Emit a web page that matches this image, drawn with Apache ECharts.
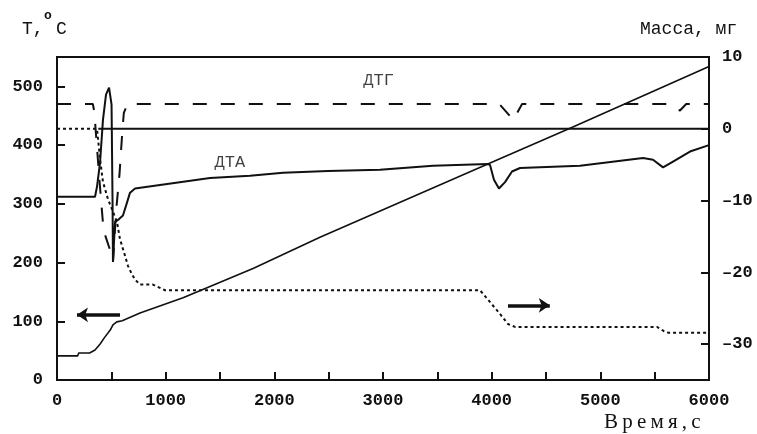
<!DOCTYPE html>
<html>
<head>
<meta charset="utf-8">
<script src="https://cdn.jsdelivr.net/npm/echarts@6/dist/echarts.min.js"></script>
<style>
  html, body { margin: 0; padding: 0; background: #fff; }
  #chart { width: 757px; height: 434px; }
</style>
</head>
<body>
<div id="chart"></div>
<script>
// Temperature program, °C (left axis)
const tempTime = [0, 190, 200, 300, 350, 395, 440, 490, 515, 550, 600, 764, 1160, 1804, 2420, 3954, 4737, 6000];
const tempValues = [41, 41, 46, 46, 51, 61, 73, 85, 94, 99, 101, 114, 140, 190, 243, 367, 430, 534];

// DTA signal, plotted in left-axis units
const dtaTime = [0, 350, 368, 396, 423, 451, 479, 502, 511, 515, 534, 552, 571, 607, 644, 672, 718, 948, 1408, 1776, 2080, 2494, 2972, 3460, 3966, 3985, 4021, 4067, 4123, 4187, 4261, 4813, 5393, 5485, 5577, 5669, 5825, 6000];
const dtaValues = [312, 312, 329, 370, 443, 486, 498, 469, 307, 201, 269, 271, 274, 280, 302, 319, 326, 332, 344, 348, 353, 356, 358, 365, 368, 366, 341, 326, 337, 355, 361, 365, 378, 375, 362, 372, 389, 400];

// DTG signal, plotted in left-axis units
const dtgTime = [0, 330, 345, 350, 395, 423, 442, 500, 515, 545, 575, 600, 615, 650, 4070, 4200, 4280, 5610, 5670, 5733, 5790, 6000];
const dtgValues = [470, 470, 455, 440, 330, 267, 247, 215, 201, 290, 350, 420, 455, 470, 470, 443, 470, 470, 462, 459, 470, 470];

// Sample mass change, mg (right axis)
const massTime = [0, 368, 396, 423, 469, 506, 552, 580, 626, 653, 690, 718, 764, 883, 994, 3893, 3966, 4077, 4150, 4215, 5521, 5586, 5623, 6000];
const massValues = [0, 0, -4.2, -7.4, -9.8, -11.2, -13.0, -15.4, -17.7, -19.1, -20.3, -21.0, -21.7, -21.7, -22.5, -22.5, -23.8, -25.8, -27.2, -27.6, -27.6, -28.2, -28.4, -28.4];

// Zero-mass reference line (right axis)
const zeroLineTime = [380, 6000];
const zeroLineValues = [0, 0];

// Axis ticks
const timeTicks = [0, 1000, 2000, 3000, 4000, 5000, 6000];
const tempTicks = [0, 100, 200, 300, 400, 500];
const massTicks = [-30, -20, -10, 0, 10];

// Curve captions and direction arrows (data coordinates)
const captions = [
  { name: 'ДТГ', t: 2960, v: 510 },
  { name: 'ДТА', t: 1590, v: 370 }
];
const tempArrow = { from: 580, to: 184, v: 111 };
const massArrow = { from: 4150, to: 4535, v: -24.6 };

const zip = (xs, ys) => xs.map((x, i) => [x, ys[i]]);

const INK = '#111';
const MONO = "'Liberation Mono', 'DejaVu Sans Mono', monospace";
const tickFont = { color: INK, fontFamily: MONO, fontWeight: 'bold', fontSize: 17 };

const chart = echarts.init(document.getElementById('chart'), null, { renderer: 'canvas' });

chart.setOption({
  animation: false,
  backgroundColor: '#fff',
  grid: {
    left: 57, right: 48, top: 57, bottom: 54,
    show: true, borderColor: INK, borderWidth: 2, backgroundColor: 'transparent'
  },
  xAxis: {
    type: 'value', min: 0, max: 6000, interval: 500,
    axisLine: { show: true, lineStyle: { color: INK, width: 2 } },
    axisTick: { show: true, inside: true, length: 8, lineStyle: { color: INK, width: 2 } },
    axisLabel: {
      ...tickFont, margin: 12,
      formatter: v => (timeTicks.includes(v) ? String(v) : '')
    },
    splitLine: { show: false }
  },
  yAxis: [
    {
      type: 'value', min: 0, max: 550, position: 'left',
      axisLine: { show: true, lineStyle: { color: INK, width: 2 } },
      axisTick: { show: true, inside: true, length: 8, customValues: tempTicks, lineStyle: { color: INK, width: 2 } },
      axisLabel: { ...tickFont, margin: 14, customValues: tempTicks },
      splitLine: { show: false }
    },
    {
      type: 'value', min: -35, max: 10, position: 'right',
      axisLine: { show: true, lineStyle: { color: INK, width: 2 } },
      axisTick: { show: true, inside: true, length: 8, customValues: massTicks, lineStyle: { color: INK, width: 2 } },
      axisLabel: {
        ...tickFont, margin: 13, customValues: massTicks,
        formatter: v => String(v).replace('-', '–')
      },
      splitLine: { show: false }
    }
  ],
  graphic: [
    { type: 'text', left: 22, top: 20, style: { text: 'T,', font: `18px ${MONO}`, fill: INK } },
    { type: 'text', left: 44, top: 9, style: { text: 'o', font: `bold 13px ${MONO}`, fill: INK } },
    { type: 'text', left: 56, top: 20, style: { text: 'C', font: `18px ${MONO}`, fill: INK } },
    { type: 'text', left: 640, top: 20, style: { text: 'Масса, мг', font: `18px ${MONO}`, fill: INK } },
    { type: 'text', left: 604, top: 412, style: { text: 'В\u2009р\u2009е\u2009м\u2009я\u2009,\u2009с', font: `21px 'Liberation Serif', serif`, fill: INK } }
  ],
  series: [
    {
      name: 'T', type: 'line', yAxisIndex: 0, data: zip(tempTime, tempValues),
      showSymbol: false, lineStyle: { color: INK, width: 1.6 },
      markLine: {
        silent: true, symbol: ['none', 'arrow'], symbolSize: [11, 11],
        label: { show: false },
        lineStyle: { color: INK, width: 3.5, type: 'solid' },
        data: [[{ coord: [tempArrow.from, tempArrow.v] }, { coord: [tempArrow.to, tempArrow.v] }]]
      }
    },
    {
      name: 'ДТА', type: 'line', yAxisIndex: 0, data: zip(dtaTime, dtaValues),
      showSymbol: false, lineStyle: { color: INK, width: 2 }
    },
    {
      name: 'ДТГ', type: 'line', yAxisIndex: 0, data: zip(dtgTime, dtgValues),
      showSymbol: false, lineStyle: { color: INK, width: 2, type: [14, 14] }
    },
    {
      name: 'Масса', type: 'line', yAxisIndex: 1, data: zip(massTime, massValues),
      showSymbol: false, lineStyle: { color: INK, width: 2, type: [3, 3] },
      markLine: {
        silent: true, symbol: ['none', 'arrow'], symbolSize: [11, 11],
        label: { show: false },
        lineStyle: { color: INK, width: 3.5, type: 'solid' },
        data: [[{ coord: [massArrow.from, massArrow.v] }, { coord: [massArrow.to, massArrow.v] }]]
      }
    },
    {
      name: 'zero', type: 'line', yAxisIndex: 1, data: zip(zeroLineTime, zeroLineValues),
      showSymbol: false, lineStyle: { color: INK, width: 2 }
    },
    {
      name: 'captions', type: 'scatter', yAxisIndex: 0, symbolSize: 0, silent: true,
      data: captions.map(c => ({ name: c.name, value: [c.t, c.v] })),
      label: {
        show: true, position: 'inside', formatter: p => p.name,
        color: INK, fontFamily: MONO, fontSize: 17
      }
    }
  ]
});
</script>
</body>
</html>
